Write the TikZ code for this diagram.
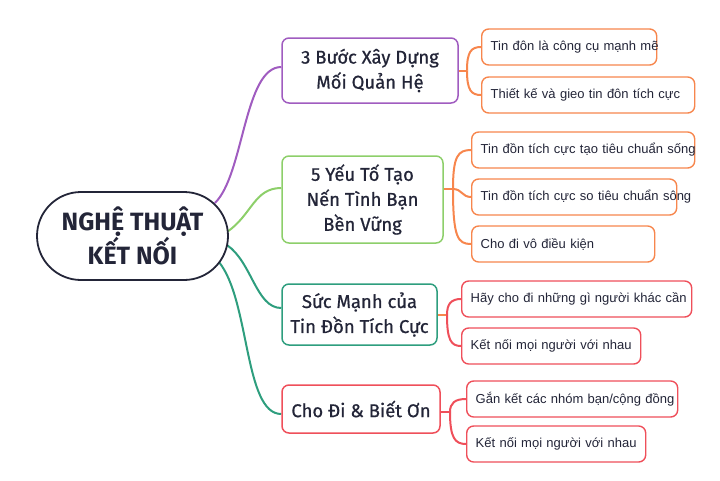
\documentclass[tikz,border=0pt]{standalone}
\usepackage{fontspec}
\setmainfont{Fira Sans}
\newfontfamily\branchfont{Fira Sans}[FakeBold=0.7]
\newfontfamily\leaffont{Liberation Sans}
\usetikzlibrary{backgrounds}

\definecolor{ink}{HTML}{232538}
\definecolor{lilac}{HTML}{A05CC0}
\definecolor{leafgreen}{HTML}{8DCF6A}
\definecolor{teal}{HTML}{2E9E7E}
\definecolor{coral}{HTML}{EF4F5A}
\definecolor{tangerine}{HTML}{F7864D}

\tikzset{
	hub/.style={draw=ink, fill=white, line width=1.8pt, rounded corners=44pt, minimum width=191pt, minimum height=88pt, text=ink, align=center, font=\bfseries\fontsize{25}{31}\selectfont},
	branch/.style={draw=#1, fill=white, line width=1.5pt, rounded corners=7pt, text=ink, align=center, font=\branchfont\fontsize{18.5}{25}\selectfont},
	leaf/.style={draw=#1, fill=white, line width=1.4pt, rounded corners=7pt, minimum height=36pt, anchor=west, text=ink, inner xsep=9pt, align=left, font=\leaffont\fontsize{13}{15}\selectfont},
	link/.style={draw=#1, line width=2pt}
}

\begin{document}
\begin{tikzpicture}[x=1pt,y=-1pt]

	\useasboundingbox (0,0) rectangle (720,480);

	\node[hub] (hub) at (132.5,236) {NGHỆ THUẬT\\KẾT NỐI};

	\node[branch=lilac, minimum width=176pt, minimum height=65pt] (steps) at (370,70.5) {3 Bước Xây Dựng\\Mối Quản Hệ};
	\node[branch=leafgreen, minimum width=161pt, minimum height=87pt] (factors) at (362.5,199.5) {5 Yếu Tố Tạo\\Nến Tình Bạn\\Bền Vững};
	\node[branch=teal, minimum width=155pt, minimum height=61pt] (power) at (359.5,314.5) {Sức Mạnh của\\Tin Đồn Tích Cực};
	\node[branch=coral, minimum width=158pt, minimum height=48pt] (giving) at (361,409) {Cho Đi \& Biết Ơn};

	\node[leaf=tangerine, text width=157pt] (tool) at (481,47) {\mbox{Tin đôn là công cụ mạnh mẽ}};
	\node[leaf=tangerine, text width=195pt] (design) at (481,95) {\mbox{Thiết kế và gieo tin đôn tích cực}};
	\node[leaf=tangerine, text width=205pt] (create) at (471,150) {\mbox{Tin đồn tích cực tạo tiêu chuẩn sống}};
	\node[leaf=tangerine, text width=187pt] (compare) at (471,197) {\mbox{Tin đồn tích cực so tiêu chuẩn sông}};
	\node[leaf=tangerine, text width=165pt] (free) at (471,244) {\mbox{Cho đi vô điều kiện}};
	\node[leaf=coral, text width=212pt] (needs) at (461,299) {\mbox{Hãy cho đi những gì người khác cần}};
	\node[leaf=coral, text width=161pt] (connect) at (461,346) {\mbox{Kết nối mọi người với nhau}};
	\node[leaf=coral, text width=193pt] (groups) at (466,399) {\mbox{Gắn kết các nhóm bạn/cộng đồng}};
	\node[leaf=coral, text width=161pt] (people) at (466,444) {\mbox{Kết nối mọi người với nhau}};

	\coordinate (j1) at (467,70.5);
	\coordinate (j2) at (453,189);
	\coordinate (j3) at (447,315);
	\coordinate (j4) at (450,412);

	\begin{scope}[on background layer]
		\draw[link=lilac] ([shift={(-14,-33)}]hub.east) .. controls (244,175) and (244,67) .. ([yshift=3.5pt]steps.west);
		\draw[link=leafgreen] ([shift={(-2,-4)}]hub.east) .. controls (252,215) and (254,188) .. ([yshift=11.5pt]factors.west);
		\draw[link=teal] ([shift={(-2,9)}]hub.east) .. controls (252,262) and (256,308) .. ([yshift=6.5pt]power.west);
		\draw[link=teal] ([shift={(-10,26)}]hub.east) .. controls (250,300) and (244,414) .. ([yshift=-5pt]giving.west);

		\draw[link=tangerine] (steps.east) -- (j1);
		\draw[link=tangerine] (j1) .. controls (467,52) and (471,47) .. (tool.west);
		\draw[link=tangerine] (j1) .. controls (467,90) and (471,95) .. (design.west);
		\draw[link=tangerine] (factors.east |- j2) -- (j2);
		\draw[link=tangerine] (j2) .. controls (453,156) and (458,150) .. (create.west);
		\draw[link=tangerine] (j2) .. controls (462,189) and (462,197) .. (compare.west);
		\draw[link=tangerine] (j2) .. controls (453,238) and (458,244) .. (free.west);
		\draw[link=tangerine] (power.east |- j3) -- (j3);
		\draw[link=coral] (j3) .. controls (447,304) and (451,299) .. (needs.west);
		\draw[link=coral] (j3) .. controls (447,340) and (451,346) .. (connect.west);
		\draw[link=coral] (giving.east |- j4) -- (j4);
		\draw[link=coral] (j4) .. controls (450,403) and (455,399) .. (groups.west);
		\draw[link=coral] (j4) .. controls (450,438) and (455,444) .. (people.west);
	\end{scope}

\end{tikzpicture}
\end{document}
